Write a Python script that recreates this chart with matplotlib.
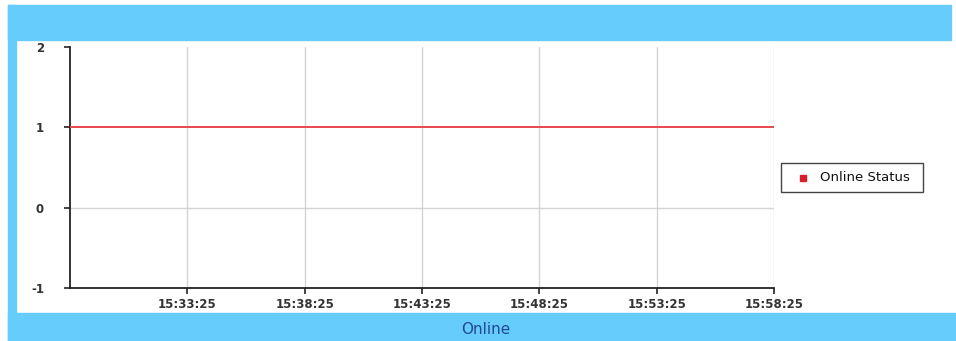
import matplotlib
matplotlib.use("Agg")
import matplotlib.pyplot as plt
import matplotlib.dates as mdates
from matplotlib.patches import Rectangle
from matplotlib.lines import Line2D
from datetime import datetime

plt.rcParams["axes.unicode_minus"] = False

# Sampled online status over the half hour window
times = ["15:28:25", "15:33:25", "15:38:25", "15:43:25", "15:48:25", "15:53:25", "15:58:25"]
status = [1, 1, 1, 1, 1, 1, 1]
tick_labels = ["15:33:25", "15:38:25", "15:43:25", "15:48:25", "15:53:25", "15:58:25"]
y_ticks = [-1, 0, 1, 2]
series_name = "Online Status"
title = "Online"

def to_dt(s):
    return datetime.strptime("2020-01-01 " + s, "%Y-%m-%d %H:%M:%S")

x = [to_dt(t) for t in times]
xt = [to_dt(t) for t in tick_labels]

W, H = 956, 341
fig = plt.figure(figsize=(W / 100, H / 100), dpi=100)
fig.patch.set_facecolor("white")

def fx(px):
    return px / W

def fy(py):
    return 1 - py / H

blue = "#66ccfb"
# blue frame: top band, left strip, bottom band
fig.patches.append(Rectangle((fx(8), fy(40)), 943 / W, 35 / H, transform=fig.transFigure,
                             color=blue, zorder=0))
fig.patches.append(Rectangle((fx(8), 0), 8 / W, fy(5), transform=fig.transFigure,
                             color=blue, zorder=0))
fig.patches.append(Rectangle((fx(8), 0), 948 / W, 28 / H, transform=fig.transFigure,
                             color=blue, zorder=0))

left, right, top, bottom = 70, 774, 47, 288
ax = fig.add_axes([fx(left), fy(bottom), (right - left) / W, (bottom - top) / H])
ax.set_facecolor("none")

line, = ax.plot(x, status, color="#e8474c", lw=1.4, zorder=3, label=series_name)

ax.set_xlim(x[0], x[-1])
ax.set_ylim(-1, 2)
ax.set_yticks(y_ticks)
ax.set_xticks(xt)
ax.xaxis.set_major_formatter(mdates.DateFormatter("%H:%M:%S"))

for t in xt:
    ax.axvline(t, color="#d4d4d4", lw=1, zorder=1)
ax.axhline(0, color="#d4d4d4", lw=1, zorder=1)

for s in ["top", "right"]:
    ax.spines[s].set_visible(False)
for s in ["left", "bottom"]:
    ax.spines[s].set_color("#222222")
    ax.spines[s].set_linewidth(1.3)

ax.tick_params(axis="both", direction="out", length=4.3, width=1.2, color="#222222",
               labelsize=8.5, labelcolor="#333333")
ax.tick_params(axis="y", pad=14.5)
ax.tick_params(axis="x", pad=3.2)
for lbl in ax.get_xticklabels() + ax.get_yticklabels():
    lbl.set_fontweight("bold")

# legend box on the right
fig.patches.append(Rectangle((fx(781), fy(192)), 142 / W, 29 / H, transform=fig.transFigure,
                             facecolor="white", edgecolor="#444444", lw=1.0, zorder=2))
fig.add_artist(Line2D([fx(803)], [fy(177.5)], transform=fig.transFigure, color="#d81e28",
                      marker="s", markersize=4, ls="none", zorder=3))
fig.text(fx(820), fy(177.5), series_name, ha="left", va="center", fontsize=9.5,
         color="#111111", zorder=3)

fig.text(fx(486), fy(329), title, ha="center", va="center", fontsize=11,
         color="#1f4a96")

fig.savefig("out.png", dpi=100)
